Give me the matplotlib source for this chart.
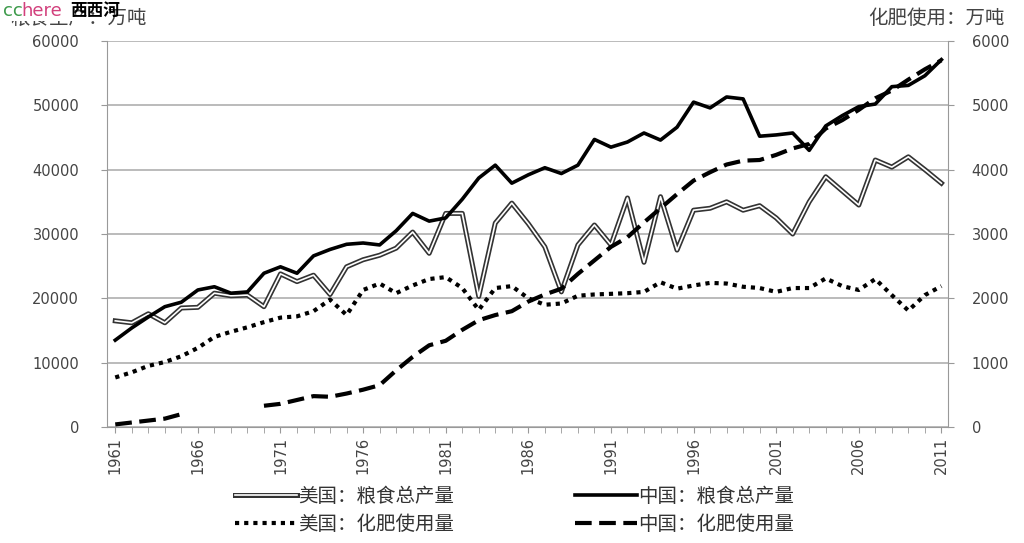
import matplotlib
matplotlib.use('Agg')
import matplotlib.pyplot as plt
import numpy as np
from matplotlib.lines import Line2D

plt.rcParams['font.family'] = ['Noto Sans CJK SC', 'DejaVu Sans']

# 数据 (万吨)
years = np.arange(1961, 2012)

cn_grain = [13500, 15400, 17100, 18700, 19400, 21300, 21800, 20800, 21000, 23900,
            24900, 23900, 26600, 27600, 28400, 28600, 28300, 30500, 33200, 32000,
            32500, 35400, 38700, 40700, 37900, 39200, 40300, 39400, 40700, 44700,
            43500, 44300, 45700, 44600, 46600, 50500, 49600, 51300, 51000, 45200,
            45400, 45700, 43000, 46800, 48400, 49800, 50200, 52900, 53100, 54600,
            57100]

us_grain = [16500, 16200, 17600, 16200, 18500, 18600, 20800, 20400, 20500, 18700,
            23800, 22600, 23600, 20600, 24900, 26000, 26700, 27800, 30300, 27000,
            33200, 33200, 20300, 31700, 34800, 31600, 28000, 21000, 28300, 31400,
            28300, 35600, 25600, 35800, 27500, 33700, 34000, 35000, 33700, 34400,
            32500, 30000, 35000, 38900, 36700, 34500, 41500, 40400, 42000, 40000,
            37900]

us_fert = [770, 850, 950, 1010, 1100, 1230, 1400, 1480, 1550, 1630,
           1700, 1720, 1800, 1980, 1740, 2130, 2230, 2080, 2200, 2300,
           2330, 2160, 1820, 2160, 2190, 2000, 1900, 1920, 2040, 2060,
           2070, 2080, 2100, 2250, 2150, 2200, 2240, 2230, 2180, 2160,
           2100, 2160, 2160, 2310, 2190, 2130, 2300, 2050, 1810, 2050,
           2190]

cn_fert = [40, 70, 100, 130, 200, np.nan, np.nan, np.nan, np.nan, 330,
           360, 420, 480, 470, 520, 580, 650, 880, 1090, 1270,
           1340, 1510, 1660, 1740, 1800, 1950, 2060, 2150, 2380, 2590,
           2800, 2950, 3180, 3400, 3620, 3830, 3960, 4080, 4140, 4150,
           4230, 4330, 4400, 4640, 4770, 4930, 5110, 5230, 5400, 5560,
           5700]

label_years = list(range(1961, 2012, 5))

W, H = 1024, 543
fig = plt.figure(figsize=(W / 100, H / 100), dpi=100)
ax = fig.add_axes([107 / W, 1 - 427 / H, (948 - 107) / W, (427 - 41) / H])

# 粮食产量 (左轴)
ax.plot(years, us_grain, color='#333333', lw=3.6, zorder=3)
ax.plot(years, us_grain, color='white', lw=1.2, zorder=4)
ax.plot(years, cn_grain, color='black', lw=2.6, zorder=5)

ax.set_xlim(1960.5, 2011.4)
ax.set_ylim(0, 60000)
ax.set_yticks(range(0, 60001, 10000))
ax.yaxis.grid(True, color='#a8a8a8', lw=1.1)
ax.set_axisbelow(True)

ax.set_xticks(label_years)
ax.set_xticklabels([str(y) for y in label_years], rotation=90, fontsize=10.5,
                   family='DejaVu Sans', color='#444444')
ax.set_xticks(years, minor=True)
ax.tick_params(axis='x', which='both', direction='out', length=4, color='#999999', pad=3)
ax.tick_params(axis='y', direction='out', length=4, color='#999999', pad=16,
               labelsize=10.5, labelcolor='#444444')
for lab in ax.get_yticklabels():
    lab.set_family('DejaVu Sans')

for s in ['top', 'right']:
    ax.spines[s].set_visible(False)
ax.spines['left'].set_color('#999999')
ax.spines['bottom'].set_color('#999999')

# 化肥使用 (右轴)
ax2 = ax.twinx()
ax2.plot(years, us_fert, color='black', lw=3, linestyle=(0, (1, 1.2)), zorder=3)
ax2.plot(years, cn_fert, color='black', lw=3, linestyle=(0, (4, 1.8)), zorder=3)
ax2.set_ylim(0, 6000)
ax2.set_yticks(range(0, 6001, 1000))
ax2.tick_params(axis='y', direction='out', length=4, color='#999999', pad=13,
                labelsize=10.5, labelcolor='#444444')
for lab in ax2.get_yticklabels():
    lab.set_family('DejaVu Sans')
for s in ['top', 'left', 'bottom']:
    ax2.spines[s].set_visible(False)
ax2.spines['right'].set_color('#999999')

# 图例
h_us_grain = (Line2D([], [], color='#333333', lw=3.6), Line2D([], [], color='white', lw=1.2))
h_cn_grain = Line2D([], [], color='black', lw=2.6)
h_us_fert = Line2D([], [], color='black', lw=3, linestyle=(0, (1, 1.2)))
h_cn_fert = Line2D([], [], color='black', lw=3, linestyle=(0, (4, 1.8)))

leg_kw = dict(loc='upper left', frameon=False, fontsize=14, handlelength=3.2,
              handletextpad=0.05, borderpad=0, borderaxespad=0, labelspacing=0.35,
              labelcolor='#333333')
leg1 = fig.legend([h_us_grain, h_us_fert], ['美国：粮食总产量', '美国：化肥使用量'],
                  bbox_to_anchor=(235 / W, 1 - 486 / H), **leg_kw)
leg2 = fig.legend([h_cn_grain, h_cn_fert], ['中国：粮食总产量', '中国：化肥使用量'],
                  bbox_to_anchor=(575 / W, 1 - 486 / H), **leg_kw)

# 轴标题
fig.text(10 / W, 1 - 18 / H, '粮食生产：万吨', fontsize=14, color='#444444', va='center')
fig.text(868 / W, 1 - 18 / H, '化肥使用：万吨', fontsize=14, color='#444444', va='center')

# 水印
fig.text(0, 1 - 9 / H, '                  ', fontsize=13, va='center',
         bbox=dict(facecolor='white', edgecolor='none', pad=2.5))
fig.text(3 / W, 1 - 11 / H, 'cc', fontsize=13, color='#3c9a4a', va='center', family='DejaVu Sans')
fig.text(21 / W, 1 - 11 / H, 'here', fontsize=13, color='#d2407c', va='center', family='DejaVu Sans')
fig.text(70 / W, 1 - 11 / H, '西西河', fontsize=12, color='black', va='center', weight='bold')

fig.savefig('out.png', dpi=100)
